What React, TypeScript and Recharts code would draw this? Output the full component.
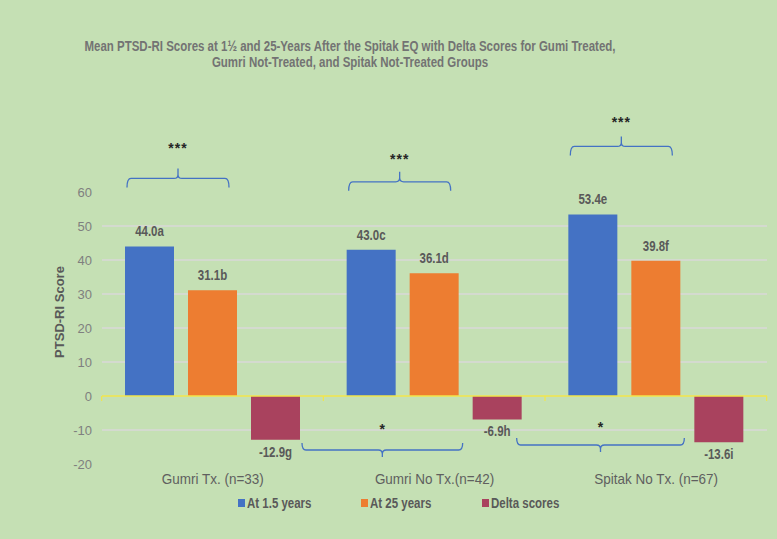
import React from 'react';
import { BarChart, Bar, XAxis, YAxis, CartesianGrid, ReferenceLine, LabelList } from 'recharts';

const categories = ['Gumri Tx. (n=33)', 'Gumri No Tx.(n=42)', 'Spitak No Tx. (n=67)'];
const at15 = [44.0, 43.0, 53.4];
const at25 = [31.1, 36.1, 39.8];
const delta = [-12.9, -6.9, -13.6];
const at15Labels = ['44.0a', '43.0c', '53.4e'];
const at25Labels = ['31.1b', '36.1d', '39.8f'];
const deltaLabels = ['-12.9g', '-6.9h', '-13.6i'];
const withinSig = ['***', '***', '***'];
const deltaSig = ['*', '*'];
const yTicks = [-20, -10, 0, 10, 20, 30, 40, 50, 60];
const gridValues = [-10, 10, 20, 30, 40, 50];
const seriesNames = ['At 1.5 years', 'At 25 years', 'Delta scores'];
const seriesColors = ['#4472C4', '#ED7D31', '#A9425E'];
const titleLines = [
  'Mean PTSD-RI Scores at 1½ and 25-Years After the Spitak EQ with Delta Scores for Gumi Treated,',
  'Gumri Not-Treated, and Spitak Not-Treated Groups',
];

const data = categories.map((c, i) => ({
  name: c,
  a: at15[i],
  b: at25[i],
  d: delta[i],
}));

const W = 777;
const H = 539;
const M = { top: 192, right: 10, left: 0, bottom: 45 };
const Y_W = 102;
const CAT_W = (W - M.left - M.right - Y_W) / categories.length;
const BAR = 49;
const GAP = 14;
const SX = 0.82;

const SANS = "'Liberation Sans', Arial, sans-serif";
const LABEL_COLOR = '#595959';
const BRACKET = '#4472C4';
const ZERO = '#F2E64B';

const NText = ({ x, y, children, size = 14, weight = 700, fill = LABEL_COLOR, sx = SX }: any) => (
  <text
    transform={`translate(${x} ${y}) scale(${sx} 1)`}
    x={0}
    y={0}
    textAnchor="middle"
    dominantBaseline="central"
    style={{ fontFamily: SANS, fontWeight: weight, fontSize: size, fill }}
  >
    {children}
  </text>
);

const bracketPath = (x1: number, x2: number, hy: number, tip: number, notch: number) => {
  const mid = (x1 + x2) / 2;
  const r = 4;
  const s = tip > hy ? 1 : -1;
  return `M ${x1} ${tip} Q ${x1} ${hy} ${x1 + r} ${hy} L ${mid - r} ${hy} Q ${mid} ${hy} ${mid} ${hy - s * 4} L ${mid} ${notch} M ${mid} ${hy - s * 4} Q ${mid} ${hy} ${mid + r} ${hy} L ${x2 - r} ${hy} Q ${x2} ${hy} ${x2} ${tip}`;
};

const bounds = (p: any) => {
  const y = Number(p.y);
  const h = Number(p.height);
  return { top: Math.min(y, y + h), bottom: Math.max(y, y + h), x: Number(p.x), w: Number(p.width) };
};

const starOffsets = [30, 23, 24];

const BlueLabel = (p: any) => {
  const { top, bottom, x, w } = bounds(p);
  const i = p.index;
  const hy = top - 68;
  const x1 = x + 2;
  const x2 = x + BAR * 2 + GAP - 8;
  const catLeft = x - (CAT_W - (BAR * 3 + GAP * 2)) / 2;
  const zeroY = bottom;
  return (
    <g>
      <NText x={x + w / 2} y={top - 15}>{at15Labels[i]}</NText>
      <path d={bracketPath(x1, x2, hy, hy + 9, hy - 10)} fill="none" stroke={BRACKET} strokeWidth={1.3} />
      <text
        x={(x1 + x2) / 2}
        y={hy - starOffsets[i]}
        textAnchor="middle"
        dominantBaseline="central"
        style={{ fontFamily: SANS, fontWeight: 700, fontSize: 14, fill: '#262626', letterSpacing: 1 }}
      >
        {withinSig[i]}
      </text>
      <line x1={catLeft} x2={catLeft} y1={zeroY} y2={zeroY + 5} stroke={ZERO} strokeWidth={1.2} />
      {i === categories.length - 1 && (
        <line x1={catLeft + CAT_W} x2={catLeft + CAT_W} y1={zeroY} y2={zeroY + 5} stroke={ZERO} strokeWidth={1.2} />
      )}
    </g>
  );
};

const OrangeLabel = (p: any) => {
  const { top, x, w } = bounds(p);
  return <NText x={x + w / 2} y={top - 15}>{at25Labels[p.index]}</NText>;
};

const bottomBr = [
  { hy: 54, s: 17 },
  { hy: 49, s: 14 },
];

const RedLabel = (p: any) => {
  const { top, bottom, x, w } = bounds(p);
  const i = p.index;
  const zeroY = top;
  let br = null;
  if (i < deltaSig.length) {
    const x1 = x + w + (i === 0 ? 2 : -5);
    const x2 = x + CAT_W - 10;
    const hy = zeroY + bottomBr[i].hy;
    br = (
      <g>
        <path d={bracketPath(x1, x2, hy, hy - 7, hy + 7)} fill="none" stroke={BRACKET} strokeWidth={1.3} />
        <text
          x={(x1 + x2) / 2}
          y={hy - bottomBr[i].s - 4}
          textAnchor="middle"
          dominantBaseline="central"
          style={{ fontFamily: SANS, fontWeight: 700, fontSize: 14, fill: '#262626' }}
        >
          {deltaSig[i]}
        </text>
      </g>
    );
  }
  return (
    <g>
      <NText x={x + w / 2} y={bottom + 12}>{deltaLabels[i]}</NText>
      {br}
    </g>
  );
};

const CatTick = (p: any) => (
  <NText x={p.x} y={p.y + 15} weight={400} size={15} sx={0.9} fill="#5F5F5F">
    {p.payload.value}
  </NText>
);

const YLabel = () => {
  const cx = 59;
  const cy = 312;
  return (
    <text
      x={cx}
      y={cy}
      transform={`rotate(-90 ${cx} ${cy})`}
      textAnchor="middle"
      dominantBaseline="central"
      style={{ fontFamily: SANS, fontWeight: 700, fontSize: 13, fill: LABEL_COLOR }}
    >
      PTSD-RI Score
    </text>
  );
};

const legendLeft = [238, 361, 482];

export default function App() {
  return (
    <div style={{ position: 'fixed', left: 0, top: 0, width: W, height: H, background: '#C5E0B4', overflow: 'hidden' }}>
      <div
        style={{
          position: 'absolute',
          left: 350 - 400,
          width: 800,
          top: 38,
          textAlign: 'center',
          fontFamily: SANS,
          fontWeight: 700,
          fontSize: 14,
          lineHeight: '16px',
          color: '#737373',
          transform: `scaleX(${SX})`,
          transformOrigin: '400px 0',
          whiteSpace: 'nowrap',
        }}
      >
        {titleLines.map((t, i) => (
          <div key={i}>{t}</div>
        ))}
      </div>
      <div style={{ position: 'absolute', left: 0, top: 0 }}>
        <BarChart width={W} height={H} data={data} margin={M} barGap={GAP} barSize={BAR}>
          <CartesianGrid vertical={false} horizontalValues={gridValues} stroke="#D9D9D9" strokeWidth={1.5} />
          <XAxis
            dataKey="name"
            axisLine={false}
            tickLine={false}
            tickSize={0}
            tickMargin={0}
            height={30}
            interval={0}
            tick={<CatTick />}
          />
          <YAxis
            width={Y_W}
            domain={[-20, 60]}
            ticks={yTicks}
            interval={0}
            axisLine={false}
            tickLine={false}
            tickSize={0}
            tickMargin={10}
            tick={{ fontFamily: SANS, fontSize: 13, fill: '#7F7F7F' }}
            label={<YLabel />}
          />
          <ReferenceLine y={0} stroke={ZERO} strokeWidth={1.5} />
          <Bar dataKey="a" name={seriesNames[0]} fill={seriesColors[0]} isAnimationActive={false}>
            <LabelList dataKey="a" content={<BlueLabel />} />
          </Bar>
          <Bar dataKey="b" name={seriesNames[1]} fill={seriesColors[1]} isAnimationActive={false}>
            <LabelList dataKey="b" content={<OrangeLabel />} />
          </Bar>
          <Bar dataKey="d" name={seriesNames[2]} fill={seriesColors[2]} isAnimationActive={false}>
            <LabelList dataKey="d" content={<RedLabel />} />
          </Bar>
        </BarChart>
      </div>
      {seriesNames.map((n, i) => (
        <div
          key={n}
          style={{ position: 'absolute', left: legendLeft[i], top: 494, height: 18, display: 'flex', alignItems: 'center' }}
        >
          <span style={{ display: 'inline-block', width: 7, height: 8, background: seriesColors[i], marginRight: 2 }} />
          <span
            style={{
              display: 'inline-block',
              fontFamily: SANS,
              fontWeight: 700,
              fontSize: 14,
              color: LABEL_COLOR,
              transform: `scaleX(${SX})`,
              transformOrigin: '0 50%',
              whiteSpace: 'nowrap',
            }}
          >
            {n}
          </span>
        </div>
      ))}
    </div>
  );
}
